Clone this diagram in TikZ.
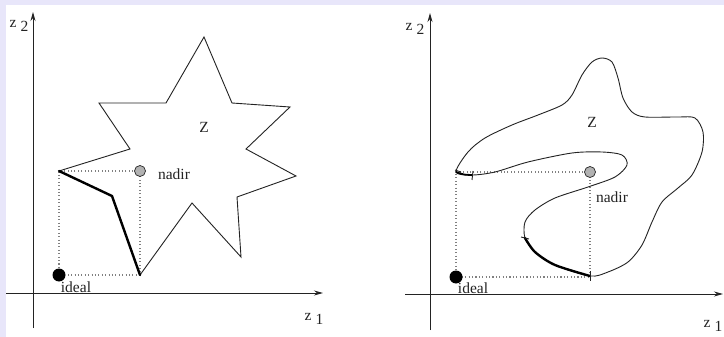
\documentclass[tikz,border=0pt]{standalone}
\usepackage{fontspec}
\setmainfont{Liberation Serif}
\usetikzlibrary{arrows.meta,calc}
\definecolor{bgframe}{RGB}{232,230,250}
\definecolor{nadirgray}{RGB}{178,178,178}
\definecolor{inkgray}{RGB}{35,35,35}
\tikzset{
  axis/.style={draw=inkgray,line width=.9pt,-{Stealth[length=9pt,width=5pt]}},
  outline/.style={draw=inkgray,line width=.9pt,line join=miter},
  front/.style={draw=black,line width=2.4pt,line cap=round,line join=round},
  guide/.style={draw=gray,line width=1.1pt,dash pattern=on 1.1pt off 2.3pt},
  idealpt/.style={circle,fill=black,inner sep=0pt,minimum size=13pt},
  nadirpt/.style={circle,draw=inkgray,fill=nadirgray,line width=.7pt,inner sep=0pt,minimum size=11pt},
  lbl/.style={inner sep=0pt,text=inkgray},
  tickmark/.style={draw=inkgray,line width=.9pt}
}
\begin{document}
\begin{tikzpicture}[x=1pt,y=-1pt,font=\fontsize{15.5}{18}\selectfont]
    \useasboundingbox (0,0) rectangle (724,337);
    \fill[bgframe] (0,0) rectangle (724,337);
    \fill[white] (6,5) rectangle (724,337);
    % left panel: star shaped Z
    \coordinate (xL0) at (6,293); \coordinate (xL1) at (323,293);
    \coordinate (yL0) at (33,328); \coordinate (yL1) at (33,12);
    \draw[axis] (xL0) -- (xL1); \draw[axis] (yL0) -- (yL1);
    \node[lbl] (z2L) at (19,26) {z\;\raisebox{-.6ex}{2}};
    \node[lbl] (z1L) at (314,319) {z\;\raisebox{-.6ex}{1}};
    \coordinate (idL) at (59,275); \coordinate (naL) at (140,171);
    \coordinate (tipL) at (idL |- naL); \coordinate (botL) at (naL |- idL);
    \draw[guide] (naL) -- (tipL) -- (idL) -- (botL) -- (naL);
    \draw[outline] (botL) -- (192,203) -- (241,257) -- (237,197) -- (296,176) -- (246,149) -- (290,107)
      -- (232,103) -- (204,37) -- (166,103) -- (99,103) -- (130,149) -- (tipL);
    \draw[front] (tipL) -- (112,196) -- (botL);
    \node[idealpt] (idealL) at (idL) {};
    \node[nadirpt] (nadirL) at (naL) {};
    \node[lbl] (idealLabL) at (76,287) {ideal};
    \node[lbl] (nadirLabL) at (174,174) {nadir};
    \node[lbl] (setL) at (204,127) {Z};
    % right panel: curved Z
    \coordinate (xR0) at (405,294); \coordinate (xR1) at (723,294);
    \coordinate (yR0) at (430,330); \coordinate (yR1) at (430,13);
    \draw[axis] (xR0) -- (xR1); \draw[axis] (yR0) -- (yR1);
    \node[lbl] (z2R) at (415,29) {z\;\raisebox{-.6ex}{2}};
    \node[lbl] (z1R) at (713,326) {z\;\raisebox{-.6ex}{1}};
    \coordinate (idR) at (456,277); \coordinate (naR) at (590,172);
    \coordinate (tipR) at (idR |- naR); \coordinate (botR) at (naR |- idR);
    \draw[guide] (naR) -- (tipR) -- (idR) -- (botR) -- (naR);
    \draw[outline] plot[smooth cycle] coordinates {(456,172) (468,152) (485,138) (512,125) (538,115) (562,105)
      (572,95) (582,75) (592,62) (602,58) (612,62) (618,78) (623,98) (632,112) (645,117) (678,117)
      (695,118) (703,132) (702,152) (692,175) (678,188) (662,202) (652,222) (642,245) (628,262)
      (608,272) (590,276) (555,265) (535,252) (525,238) (525,222) (535,210) (555,198) (588,187)
      (615,177) (627,165) (622,155) (602,152) (572,153) (528,162) (495,172) (472,175)};
    \draw[front] plot[smooth] coordinates {(525,238) (535,252) (555,265) (590,276)};
    \draw[front,line width=1.8pt] plot[smooth] coordinates {(456,172) (464,174.5) (472,175)};
    \draw[tickmark] (473,171) -- (472,180); \draw[tickmark] (521,237) -- (529,239);
    \draw[tickmark] (590,271) -- (590,281); \draw[tickmark] (455,170) -- (461,172);
    \node[idealpt] (idealR) at (idR) {};
    \node[nadirpt] (nadirR) at (naR) {};
    \node[lbl] (idealLabR) at (473,288) {ideal};
    \node[lbl] (nadirLabR) at (612,197) {nadir};
    \node[lbl] (setR) at (592,122) {Z};
\end{tikzpicture}
\end{document}
